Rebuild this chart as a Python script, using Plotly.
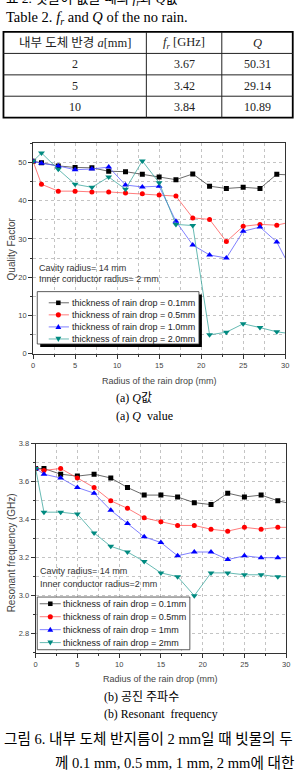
import plotly.graph_objects as go

# ---------------- data ----------------
table_header = ["내부 도체 반경 <i>a</i>[mm]", "<i>f<sub>r</sub></i> [GHz]", "<i>Q</i>"]
table_a = ["2", "5", "10"]
table_fr = ["3.67", "3.42", "3.84"]
table_q = ["50.31", "29.14", "10.89"]

radius = [0, 1, 3, 5, 7, 9, 11, 13, 15, 17, 19, 21, 23, 25, 27, 29, 31]

q_01 = [50.31, 49.9, 49.1, 48.7, 48.6, 47.7, 47.6, 46.9, 46.2, 45.5, 47.0, 43.8, 43.2, 43.5, 43.2, 46.9, 46.7]
q_05 = [50.31, 44.3, 42.5, 42.5, 42.3, 42.3, 42.0, 41.8, 41.5, 41.2, 35.5, 35.1, 29.3, 33.3, 33.8, 33.6, 34.6]
q_10 = [50.31, 49.8, 49.1, 48.1, 48.3, 48.8, 44.1, 43.6, 43.8, 34.6, 28.4, 25.8, 25.0, 32.0, 33.1, 29.2, 20.8]
q_20 = [50.31, 52.5, 48.2, 44.3, 43.5, 46.2, 43.0, 50.4, 44.7, 33.8, 33.5, 4.9, 5.6, 7.8, 6.8, 5.7, 5.1]

fr_01 = [3.67, 3.67, 3.64, 3.63, 3.64, 3.62, 3.57, 3.53, 3.53, 3.52, 3.49, 3.48, 3.54, 3.52, 3.53, 3.50, 3.48]
fr_05 = [3.67, 3.66, 3.67, 3.62, 3.57, 3.50, 3.46, 3.41, 3.39, 3.37, 3.37, 3.35, 3.34, 3.36, 3.35, 3.36, 3.36]
fr_10 = [3.67, 3.64, 3.62, 3.57, 3.54, 3.45, 3.38, 3.31, 3.28, 3.21, 3.23, 3.23, 3.19, 3.21, 3.20, 3.20, 3.20]
fr_20 = [3.67, 3.44, 3.44, 3.43, 3.33, 3.26, 3.23, 3.18, 3.12, 3.10, 3.00, 3.12, 3.12, 3.11, 3.11, 3.10, 3.10]

names_q = ["thickness of rain drop = 0.1mm", "thickness of rain drop = 0.5mm",
           "thickness of rain drop = 1.0mm", "thickness of rain drop = 2.0mm"]
names_fr = ["thickness of rain drop = 0.1mm", "thickness of rain drop = 0.5mm",
            "thickness of rain drop = 1mm", "thickness of rain drop = 2mm"]

# ---------------- style ----------------
W, H = 299, 776
SERIF = "Liberation Serif, Times New Roman, Noto Sans CJK KR"
SANS = "Liberation Sans, Arial, Noto Sans CJK KR"
marker_colors = ["#000000", "#ff0000", "#0000ff", "#008a80"]
line_colors = ["#444444", "#ff5a5a", "#6060ff", "#40a8a0"]
symbols = ["square", "circle", "triangle-up", "triangle-down"]
msizes = [5, 5, 6, 6]


def px(x):
    return x / W


def py(y):
    return 1 - y / H


fig = go.Figure()

for i, ys in enumerate([q_01, q_05, q_10, q_20]):
    fig.add_trace(go.Scatter(
        x=radius, y=ys, mode="lines+markers", name=names_q[i], showlegend=False,
        line=dict(color=line_colors[i], width=0.8),
        marker=dict(symbol=symbols[i], size=msizes[i], color=marker_colors[i]),
        xaxis="x", yaxis="y"))

for i, ys in enumerate([fr_01, fr_05, fr_10, fr_20]):
    fig.add_trace(go.Scatter(
        x=radius, y=ys, mode="lines+markers", name=names_fr[i], showlegend=False,
        line=dict(color=line_colors[i], width=0.8),
        marker=dict(symbol=symbols[i], size=msizes[i], color=marker_colors[i]),
        xaxis="x2", yaxis="y2"))

grid = dict(showgrid=True, gridcolor="#c4c4c4", griddash="dot", gridwidth=1)
axis_common = dict(showline=True, mirror=True, linecolor="#333", linewidth=1,
                   ticks="outside", ticklen=4, tickcolor="#333", tickwidth=1,
                   zeroline=False, tickfont=dict(family=SANS, size=7.5, color="#444"),
                   fixedrange=True, **grid)

fig.update_layout(
    width=W, height=H, margin=dict(l=0, r=0, t=0, b=0), autosize=False,
    paper_bgcolor="white", plot_bgcolor="white", showlegend=False,
    xaxis=dict(domain=[px(31.7), px(289)], range=[0, 30], dtick=5, anchor="y",
               minor=dict(dtick=2.5, ticks="outside", ticklen=2, tickcolor="#333", **grid),
               **axis_common),
    yaxis=dict(domain=[py(353.7), py(141)], range=[0, 55], dtick=10, anchor="x",
               minor=dict(dtick=5, ticks="outside", ticklen=2, tickcolor="#333", **grid),
               **axis_common),
    xaxis2=dict(domain=[px(34.3), px(290)], range=[0, 30], dtick=5, anchor="y2",
                minor=dict(dtick=2.5, ticks="outside", ticklen=2, tickcolor="#333", **grid),
                **axis_common),
    yaxis2=dict(domain=[py(656.2), py(445)], range=[2.7, 3.8], dtick=0.2, anchor="x2",
                tickformat=".1f",
                minor=dict(dtick=0.1, ticks="outside", ticklen=2, tickcolor="#333", **grid),
                **axis_common),
)

shapes = []
annotations = []


def ann(text, x, y, size, color="#000", family=SERIF, xanchor="left", angle=0):
    annotations.append(dict(text=text, x=px(x), y=py(y), xref="paper", yref="paper",
                            showarrow=False, xanchor=xanchor, yanchor="middle",
                            textangle=angle, font=dict(family=family, size=size, color=color),
                            borderpad=0))


def rect(x0, y0, x1, y1, lw, lc="#000", fill=None):
    d = dict(type="rect", xref="paper", yref="paper", x0=px(x0), x1=px(x1),
             y0=py(y1), y1=py(y0), line=dict(width=lw, color=lc), layer="above")
    if fill:
        d["fillcolor"] = fill
    shapes.append(d)


def hline(x0, x1, y, lw, color="#000"):
    shapes.append(dict(type="line", xref="paper", yref="paper", x0=px(x0), x1=px(x1),
                       y0=py(y), y1=py(y), line=dict(width=lw, color=color), layer="above"))


def vline(x, y0, y1, lw, color="#000"):
    shapes.append(dict(type="line", xref="paper", yref="paper", x0=px(x), x1=px(x),
                       y0=py(y0), y1=py(y1), line=dict(width=lw, color=color), layer="above"))


def poly(pts, color):
    path = "M " + " L ".join(f"{px(a):.5f},{py(b):.5f}" for a, b in pts) + " Z"
    shapes.append(dict(type="path", xref="paper", yref="paper", path=path,
                       fillcolor=color, line=dict(width=0, color=color), layer="above"))


def legend_marker(sym, cx, cy, color):
    if sym == "square":
        s = 2.3
        poly([(cx - s, cy - s), (cx + s, cy - s), (cx + s, cy + s), (cx - s, cy + s)], color)
    elif sym == "circle":
        r = 2.6
        shapes.append(dict(type="circle", xref="paper", yref="paper",
                           x0=px(cx - r), x1=px(cx + r), y0=py(cy + r), y1=py(cy - r),
                           fillcolor=color, line=dict(width=0, color=color), layer="above"))
    elif sym == "triangle-up":
        poly([(cx, cy - 3), (cx + 3, cy + 2.2), (cx - 3, cy + 2.2)], color)
    else:
        poly([(cx, cy + 3), (cx + 3, cy - 2.2), (cx - 3, cy - 2.2)], color)


# ---------------- top text & table ----------------
ann("표 2. 빗물이 없을 때의 <i>f<sub>r</sub></i>과 <i>Q</i>값", 3, -5, 13.5)
ann("Table 2. <i>f<sub>r</sub></i> and <i>Q</i> of the no rain.", 3, 14.5, 14.5)

tx0, tx1, tx2, tx3 = 1.5, 147.3, 224.3, 296.7
row_y = [28.3, 50, 71.7, 93.3, 115]
rect(tx0, row_y[0], tx3, row_y[-1], 1.8)
for yy in row_y[1:-1]:
    hline(tx0, tx3, yy, 1, "#222")
vline(tx1, row_y[0], row_y[-1], 1, "#222")
vline(tx2, row_y[0], row_y[-1], 1, "#222")
col_c = [(tx0 + tx1) / 2, (tx1 + tx2) / 2, (tx2 + tx3) / 2]
for j, h in enumerate(table_header):
    ann(h, col_c[j], (row_y[0] + row_y[1]) / 2, 12.5, "#222", xanchor="center")
for i in range(3):
    yc = (row_y[i + 1] + row_y[i + 2]) / 2
    ann(table_a[i], col_c[0], yc, 12, "#222", xanchor="center")
    ann(table_fr[i], col_c[1], yc, 12, "#222", xanchor="center")
    ann(table_q[i], col_c[2], yc, 12, "#222", xanchor="center")

# ---------------- chart 1 texts ----------------
ann("Quality Factor", 10, 247.5, 10, "#444", SANS, "center", -90)
ann("Radius of the rain drop (mm)", 160.3, 381, 9, "#444", SANS, "center")
ann("Cavity radius= 14 mm", 36.5, 266.7, 9, "#333", SANS)
ann("Inner conductor radius= 2 mm", 36.5, 278.5, 9, "#333", SANS)

# legend 1 (with drop shadow)
rect(39, 294, 204, 347, 0, "#000", "#000")
rect(36, 291, 201, 344, 0.8, "#333", "white")
for i in range(4):
    yc = 302.3 + i * 12.2
    hline(47.7, 68.3, yc, 0.8, line_colors[i])
    legend_marker(symbols[i], 57.5, yc, marker_colors[i])
    ann(names_q[i], 70, yc, 9, "#222", SANS)

# captions (a)
ann("(a) <i>Q</i>값", 115, 398.5, 12)
ann("(a) <i>Q</i>  value", 115, 416.7, 12)

# ---------------- chart 2 texts ----------------
ann("Resonant frequency (GHz)", 10, 555, 10, "#444", SANS, "center", -90)
ann("Radius of the rain drop (mm)", 162.2, 682.7, 9, "#444", SANS, "center")
ann("Cavity radius= 14 mm", 37.5, 574, 9, "#333", SANS)
ann("Inner conductor radius=2 mm", 37.5, 586.7, 9, "#333", SANS)

rect(36, 600, 191.7, 653.3, 0.8, "#333", "white")
for i in range(4):
    yc = 606.8 + i * 13.1
    hline(38.5, 60, yc, 0.8, line_colors[i])
    legend_marker(symbols[i], 49.3, yc, marker_colors[i])
    ann(names_fr[i], 61.5, yc, 9, "#222", SANS)

ann("(b) 공진 주파수", 103, 701, 12)
ann("(b) Resonant  frequency", 103, 718, 11.8)

# ---------------- figure caption ----------------
ann("그림 6. 내부 도체 반지름이 2 mm일 때 빗물의 두", 1, 744, 14.6)
ann("께 0.1 mm, 0.5 mm, 1 mm, 2 mm에 대한", 53, 768, 14.6)
ann("<i>Q</i>값과 공진 주파수", 53, 789, 14.6)

fig.update_layout(shapes=shapes, annotations=annotations)
fig.write_html("out.html")
